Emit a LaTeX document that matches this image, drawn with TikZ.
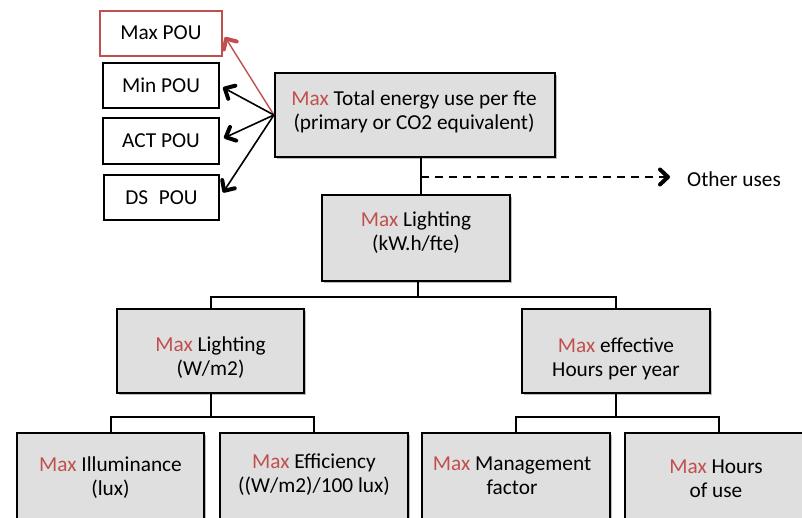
\documentclass[tikz,border=0pt]{standalone}
\usepackage{fontspec}
\setmainfont{Carlito}
\usetikzlibrary{arrows.meta,shadows}
\definecolor{maxred}{RGB}{192,80,77}
\definecolor{boxgray}{RGB}{223,223,223}
\newcommand{\mx}{\textcolor{maxred}{Max}}
\begin{document}
\begin{tikzpicture}[x=1pt,y=-1pt,
  every node/.style={font=\fontsize{21.3}{24}\selectfont, align=center, inner sep=0pt},
  gbox/.style={draw, line width=2.2pt, fill=boxgray, drop shadow={shadow xshift=1.5pt, shadow yshift=-1.5pt, opacity=0.25, fill=black}},
  pbox/.style={draw, line width=2pt, fill=white, minimum width=116pt, minimum height=45pt},
  conn/.style={line width=2pt},
  tip/.style={-{Straight Barb[length=8pt, width=15pt, line width=4pt, round]}},
  barb/.style={line width=1.6pt, tip}
]
\clip (0,0) rectangle (802,517);
\fill[white] (0,0) rectangle (802,517);

% POU boxes
\node[pbox, draw=maxred, minimum width=122pt] (maxpou) at (161,33) {Max POU};
\node[pbox] (minpou) at (161,85.5) {Min POU};
\node[pbox, minimum height=46pt] (actpou) at (161,141) {ACT POU};
\node[pbox, minimum width=115pt] (dspou) at (161.5,197.5) {DS\enspace POU};

% main boxes
\node[gbox, minimum width=280pt, minimum height=84pt] (top) at (415,115) {};
\node (topt) at (414,112) {\mx{} Total energy use per fte\\(primary or CO2 equivalent)};
\node[gbox, minimum width=188pt, minimum height=86pt] (light1) at (416,238) {};
\node (light1t) at (416,233) {\mx{} Lighting\\(kW.h/fte)};
\node[gbox, minimum width=187pt, minimum height=84pt] (lightW) at (210.5,351) {};
\node (lightWt) at (210.5,358) {\mx{} Lighting\\(W/m2)};
\node[gbox, minimum width=188pt, minimum height=84pt] (eff) at (616,351) {};
\node (efft) at (616,359) {\mx{} effective\\Hours per year};
\node[gbox, minimum width=187pt, minimum height=88pt] (illum) at (110.5,477) {};
\node (illumt) at (110.5,478) {\mx{} Illuminance\\(lux)};
\node[gbox, minimum width=188pt, minimum height=88pt] (effic) at (314,477) {};
\node (effict) at (314,475) {\mx{} Efficiency\\((W/m2)/100 lux)};
\node[gbox, minimum width=188pt, minimum height=88pt] (mgmt) at (516,477) {};
\node (mgmtt) at (512,476) {\mx{} Management\\factor};
\node[gbox, minimum width=188pt, minimum height=88pt] (hours) at (719,477) {};
\node (hourst) at (716,479) {\mx{} Hours\\of use};

\node[anchor=west] (other) at (687,179) {Other uses};

% top to lighting
\draw[conn] ([xshift=6pt]top.south) -- ([xshift=5pt]light1.north);
\coordinate (dj) at (421,177);
\draw[line width=2pt, dash pattern=on 8pt off 6pt, tip] (dj) -- ([xshift=-17pt,yshift=2pt]other.west);

% tree level 1
\draw[conn] ([xshift=2pt]light1.south) -- ++(0,15) coordinate (j1);
\draw[conn] (lightW.north) |- (j1) -| (eff.north);

% tree level 2
\draw[conn] (lightW.south) -- ++(0,23) coordinate (j2);
\draw[conn] (illum.north) |- (j2) -| (effic.north);
\draw[conn] (eff.south) -- ++(0,23) coordinate (j3);
\draw[conn] (mgmt.north) |- (j3) -| (hours.north);

% POU arrows
\draw[line width=1.4pt, draw=maxred, tip] (top.west) -- ([xshift=2pt,yshift=-4pt]maxpou.east);
\draw[barb] (top.west) -- ([xshift=3pt,yshift=-2pt]minpou.east);
\draw[barb] (top.west) -- ([xshift=4pt,yshift=3pt]actpou.east);
\draw[barb] (top.west) -- ([xshift=3pt,yshift=5pt]dspou.east);
\end{tikzpicture}
\end{document}
